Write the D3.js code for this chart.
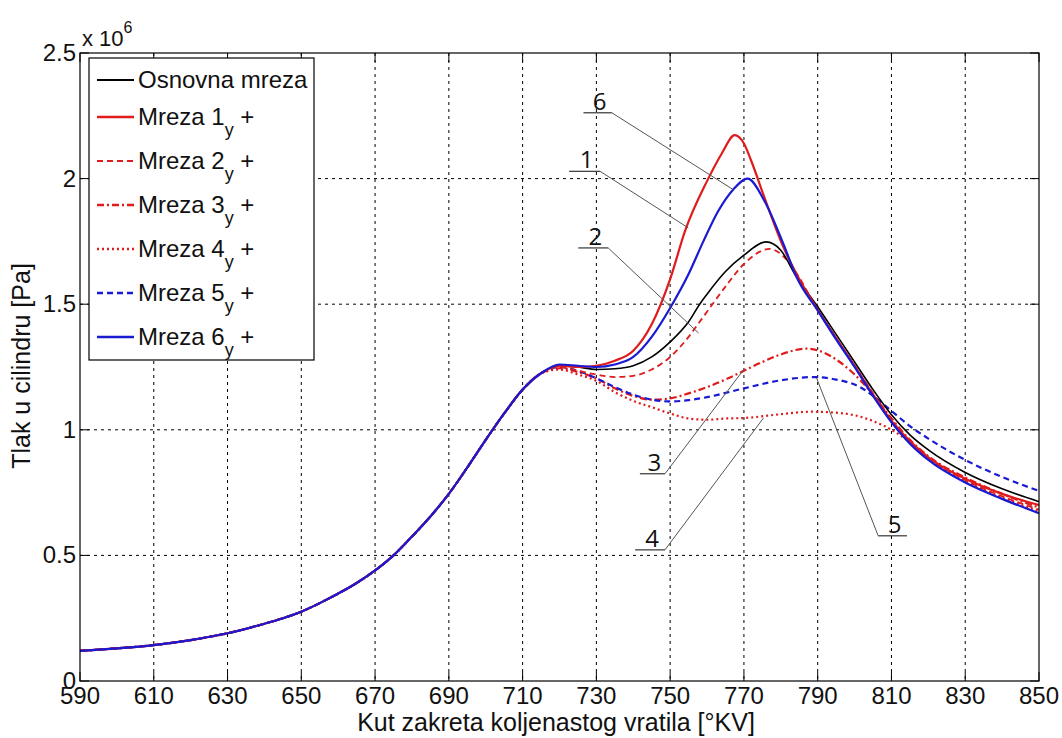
<!DOCTYPE html>
<html>
<head>
<meta charset="utf-8">
<script src="https://cdn.jsdelivr.net/npm/d3@7"></script>
<style>
  body { margin: 0; background: #fff; }
  svg text { font-family: "Liberation Sans", Arial, sans-serif; }
</style>
</head>
<body>
<svg width="1062" height="738"></svg>
<script>
// crank angle ticks and pressure ticks (x 10^6 Pa)
const angleTicks = [590, 610, 630, 650, 670, 690, 710, 730, 750, 770, 790, 810, 830, 850];
const pressureTicks = [0, 0.5, 1, 1.5, 2, 2.5];
const pressureLabels = ['0', '0.5', '1', '1.5', '2', '2.5'];

// compression part, same for every mesh
const commonCurve = [[590, 0.12], [600, 0.13], [610, 0.143], [620, 0.163], [630, 0.19], [640, 0.228],
    [645, 0.25], [650, 0.276], [655, 0.31], [660, 0.348], [665, 0.39], [670, 0.44], [675, 0.5], [680, 0.575],
    [685, 0.655], [690, 0.745], [695, 0.85], [700, 0.96], [705, 1.065], [710, 1.16], [715, 1.225]];

// after 715 the meshes split
const osnovna = [[720, 1.255], [725, 1.25], [730, 1.24], [735, 1.243], [740, 1.255], [745, 1.29], [750, 1.35],
    [755, 1.43], [758, 1.5], [760, 1.54], [765, 1.63], [770, 1.695], [776, 1.748], [780, 1.715], [784, 1.615],
    [790, 1.49], [795, 1.38], [800, 1.27], [805, 1.16], [810, 1.06], [815, 0.98], [820, 0.92], [830, 0.83],
    [840, 0.765], [850, 0.714]];
const mreza1 = [[720, 1.255], [725, 1.25], [730, 1.255], [735, 1.275], [740, 1.315], [745, 1.42], [750, 1.6],
    [754, 1.79], [760, 1.99], [764, 2.1], [767.5, 2.173], [770, 2.14], [772, 2.07], [775.5, 1.927], [780.7, 1.727],
    [785, 1.6], [790, 1.478], [795, 1.365], [800, 1.255], [805, 1.14], [810, 1.035], [815, 0.955], [820, 0.89],
    [830, 0.805], [840, 0.745], [850, 0.7]];
const mreza2 = [[720, 1.25], [725, 1.235], [730, 1.22], [735, 1.21], [740, 1.215], [745, 1.24], [750, 1.29],
    [755, 1.37], [757.5, 1.42], [760, 1.47], [765, 1.57], [770, 1.66], [777, 1.72], [780, 1.7], [784.3, 1.622],
    [790, 1.476], [795, 1.365], [800, 1.255], [805, 1.145], [810, 1.04], [815, 0.955], [820, 0.89], [830, 0.8],
    [840, 0.735], [850, 0.682]];
const mreza3 = [[720, 1.245], [725, 1.23], [730, 1.205], [735, 1.165], [740, 1.135], [745, 1.12], [750, 1.125],
    [755, 1.145], [760, 1.17], [765, 1.2], [770, 1.235], [775, 1.27], [780, 1.3], [787, 1.323], [790, 1.316],
    [795, 1.28], [800, 1.22], [805, 1.14], [810, 1.045], [815, 0.96], [820, 0.895], [830, 0.81], [840, 0.745],
    [850, 0.69]];
const mreza4 = [[720, 1.24], [725, 1.22], [730, 1.195], [735, 1.15], [740, 1.115], [745, 1.09], [750, 1.065],
    [755, 1.045], [760, 1.04], [765, 1.045], [770, 1.047], [780, 1.062], [788, 1.072], [795, 1.068], [800, 1.058],
    [805, 1.035], [810, 1.0], [815, 0.95], [820, 0.885], [830, 0.795], [840, 0.73], [850, 0.675]];
const mreza5 = [[720, 1.25], [725, 1.235], [730, 1.205], [735, 1.17], [740, 1.14], [745, 1.12], [750, 1.113],
    [755, 1.118], [760, 1.13], [770, 1.165], [780, 1.197], [789, 1.21], [795, 1.2], [801.5, 1.17], [805, 1.135],
    [810, 1.075], [815, 1.015], [820, 0.965], [830, 0.88], [840, 0.812], [850, 0.757]];
const mreza6 = [[720, 1.26], [725, 1.255], [730, 1.25], [735, 1.26], [740, 1.29], [745, 1.37], [750, 1.485],
    [755, 1.62], [759, 1.75], [763, 1.87], [767, 1.955], [771, 2.0], [775.5, 1.913], [780.7, 1.74], [784.3, 1.607],
    [790, 1.475], [795, 1.36], [800, 1.25], [805, 1.135], [810, 1.03], [815, 0.945], [820, 0.88], [830, 0.79],
    [840, 0.725], [850, 0.668]];

const seriesNames = ['Osnovna mreza', 'Mreza 1', 'Mreza 2', 'Mreza 3', 'Mreza 4', 'Mreza 5', 'Mreza 6'];
const seriesData = [osnovna, mreza1, mreza2, mreza3, mreza4, mreza5, mreza6];

const red = '#e01b1b';
const blue = '#1a1ad2';
const styles = [
    { color: '#000', dash: null, w: 1.6 },
    { color: red, dash: null, w: 2.2 },
    { color: red, dash: '6,4', w: 1.8 },
    { color: red, dash: '7,3,2,3', w: 2.2 },
    { color: red, dash: '2,3', w: 2.2 },
    { color: blue, dash: '6,4', w: 2.2 },
    { color: blue, dash: null, w: 2.2 }
];

// annotation: label, target [angle, p], underline start/end angle, underline p
const annotations = [
    { label: '6', target: [767.1, 1.956], from: 726.5, to: 734.2, p: 2.262, side: 'right' },
    { label: '1', target: [754.9, 1.804], from: 722.6, to: 731.0, p: 2.029, side: 'right' },
    { label: '2', target: [757.7, 1.385], from: 725.1, to: 733.2, p: 1.724, side: 'right' },
    { label: '3', target: [769.9, 1.239], from: 741.8, to: 748.6, p: 0.825, side: 'right' },
    { label: '4', target: [775.3, 1.047], from: 740.5, to: 748.6, p: 0.522, side: 'right' },
    { label: '5', target: [789.7, 1.206], from: 806.4, to: 814.2, p: 0.578, side: 'left' }
];

const svg = d3.select('svg');
const plotLeft = 80, plotRight = 1039, plotTop = 53, plotBottom = 681;

const x = d3.scaleLinear().domain([590, 850]).range([plotLeft, plotRight]);
const y = d3.scaleLinear().domain([0, 2.5]).range([plotBottom, plotTop]);

// grid
const grid = svg.append('g');
grid.selectAll('.vg').data(angleTicks.slice(1, -1)).enter().append('line')
    .attr('x1', d => x(d)).attr('x2', d => x(d))
    .attr('y1', plotTop).attr('y2', plotBottom)
    .attr('stroke', '#000').attr('stroke-width', 1).attr('stroke-dasharray', '3,4');
grid.selectAll('.hg').data(pressureTicks.slice(1, -1)).enter().append('line')
    .attr('x1', plotLeft).attr('x2', plotRight)
    .attr('y1', d => y(d)).attr('y2', d => y(d))
    .attr('stroke', '#000').attr('stroke-width', 1).attr('stroke-dasharray', '3,4');

// curves
const line = d3.line().x(d => x(d[0])).y(d => y(d[1])).curve(d3.curveMonotoneX);
const drawOrder = [4, 3, 5, 2, 0, 1, 6];
drawOrder.forEach(i => {
    svg.append('path')
        .datum(commonCurve.concat(seriesData[i]))
        .attr('d', line)
        .attr('fill', 'none')
        .attr('stroke', styles[i].color)
        .attr('stroke-width', styles[i].w)
        .attr('stroke-dasharray', styles[i].dash)
        .attr('stroke-linejoin', 'round');
});

// annotations
const ann = svg.append('g');
annotations.forEach(a => {
    const ux1 = x(a.from), ux2 = x(a.to), uy = y(a.p);
    const joint = a.side == 'right' ? ux2 : ux1;
    ann.append('line').attr('x1', ux1).attr('x2', ux2).attr('y1', uy).attr('y2', uy)
        .attr('stroke', '#333').attr('stroke-width', 1.2);
    ann.append('line').attr('x1', joint).attr('y1', uy)
        .attr('x2', x(a.target[0])).attr('y2', y(a.target[1]))
        .attr('stroke', '#555').attr('stroke-width', 1);
    ann.append('text').attr('x', (ux1 + ux2) / 2 + 2).attr('y', uy - 3)
        .attr('text-anchor', 'middle')
        .style('font-family', '"Open Sans", sans-serif')
        .style('font-size', '24px').attr('fill', '#111')
        .text(a.label);
});

// frame and ticks
svg.append('rect').attr('x', plotLeft).attr('y', plotTop)
    .attr('width', plotRight - plotLeft).attr('height', plotBottom - plotTop)
    .attr('fill', 'none').attr('stroke', '#000').attr('stroke-width', 1.2);

const tickLen = 9;
angleTicks.forEach(t => {
    svg.append('line').attr('x1', x(t)).attr('x2', x(t)).attr('y1', plotBottom).attr('y2', plotBottom - tickLen).attr('stroke', '#000');
    svg.append('line').attr('x1', x(t)).attr('x2', x(t)).attr('y1', plotTop).attr('y2', plotTop + tickLen).attr('stroke', '#000');
});
pressureTicks.forEach(t => {
    svg.append('line').attr('x1', plotLeft).attr('x2', plotLeft + tickLen).attr('y1', y(t)).attr('y2', y(t)).attr('stroke', '#000');
    svg.append('line').attr('x1', plotRight).attr('x2', plotRight - tickLen).attr('y1', y(t)).attr('y2', y(t)).attr('stroke', '#000');
});

svg.append('g').selectAll('text').data(angleTicks).enter().append('text')
    .attr('x', d => x(d)).attr('y', 704)
    .attr('text-anchor', 'middle').style('font-size', '24px').attr('fill', '#111')
    .text(d => d);
svg.append('g').selectAll('text').data(pressureTicks).enter().append('text')
    .attr('x', 76).attr('y', d => y(d) + 8)
    .attr('text-anchor', 'end').style('font-size', '24px').attr('fill', '#111')
    .text((d, i) => pressureLabels[i]);

// exponent
const expo = svg.append('text').attr('x', 82).attr('y', 46).style('font-size', '22px').attr('fill', '#111');
expo.append('tspan').text('x 10');
expo.append('tspan').attr('dy', -13).style('font-size', '16px').text('6');

// axis titles
svg.append('text').attr('x', 556).attr('y', 731).attr('text-anchor', 'middle')
    .style('font-size', '25px').attr('fill', '#111')
    .text('Kut zakreta koljenastog vratila [°KV]');
svg.append('text').attr('transform', 'translate(30,366) rotate(-90)').attr('text-anchor', 'middle')
    .style('font-size', '25px').attr('fill', '#111')
    .text('Tlak u cilindru [Pa]');

// legend
const legend = svg.append('g');
legend.append('rect').attr('x', 89).attr('y', 58).attr('width', 225).attr('height', 302)
    .attr('fill', '#fff').attr('stroke', '#000').attr('stroke-width', 1.2);
const legendY = [80, 117, 161, 205, 249, 293, 337];
seriesNames.forEach((name, i) => {
    const ly = legendY[i];
    legend.append('line').attr('x1', 97).attr('x2', 134).attr('y1', ly).attr('y2', ly)
        .attr('stroke', styles[i].color).attr('stroke-width', styles[i].w + 0.4)
        .attr('stroke-dasharray', styles[i].dash);
    const t = legend.append('text').attr('x', 138).attr('y', ly + 8)
        .style('font-size', '24px').attr('fill', '#111');
    t.append('tspan').text(name);
    if (i > 0) {
        t.append('tspan').attr('dy', 11).style('font-size', '18px').text('y');
        t.append('tspan').attr('dy', -11).text(' +');
    }
});
</script>
</body>
</html>
